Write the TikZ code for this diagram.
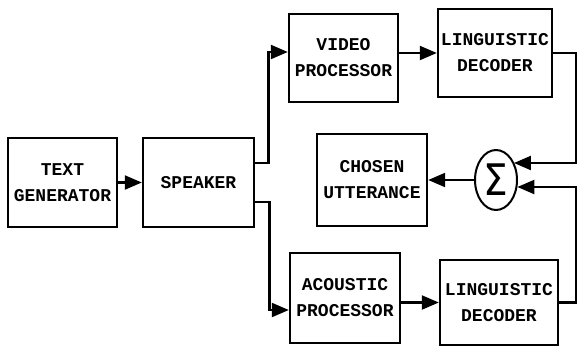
\documentclass[tikz,border=0pt]{standalone}
\usepackage{fontspec}
\setmonofont{Liberation Mono}
\newfontfamily\sigfont{DejaVu Sans}
\usetikzlibrary{arrows.meta,shapes.geometric}
\begin{document}
\begin{tikzpicture}[x=1pt,y=-1pt,
  blk/.style={draw,line width=2.4pt,inner sep=0pt,align=center,
    font=\ttfamily\bfseries\fontsize{18}{26}\selectfont},
  arr/.style={line width=2.2pt,-{Triangle[length=17pt,width=14pt]}},
  ln/.style={line width=2.2pt}]
\useasboundingbox (0,0) rectangle (581,346);
\node[blk,minimum width=109pt,minimum height=89pt] (tg) at (62.5,182.5) {TEXT\\GENERATOR};
\node[blk,minimum width=111pt,minimum height=89pt] (sp) at (198.5,182.5) {SPEAKER};
\node[blk,minimum width=109pt,minimum height=88pt] (vp) at (343.5,58) {VIDEO\\PROCESSOR};
\node[blk,minimum width=114pt,minimum height=88pt] (ld1) at (495,53) {LINGUISTIC\\DECODER};
\node[blk,minimum width=110pt,minimum height=92pt] (cu) at (372,180) {CHOSEN\\UTTERANCE};
\node[blk,minimum width=110pt,minimum height=90pt] (ap) at (345,298) {ACOUSTIC\\PROCESSOR};
\node[blk,minimum width=118pt,minimum height=85pt] (ld2) at (499,302.5) {LINGUISTIC\\DECODER};
\node[draw,ellipse,line width=2pt,minimum width=42pt,minimum height=60pt,inner sep=0pt] (sig) at (496,180)
  {\scalebox{1.3}[1.45]{\sigfont\fontsize{30}{30}\selectfont Σ}};
\coordinate (up) at (268.5,52);
\coordinate (dn) at (269.5,310);
\coordinate (r1) at (576,163);
\coordinate (r2) at (576,187);
\draw[arr] (tg.east) -- (sp.west);
\draw[arr] ([yshift=19.5pt]sp.east) -| (up) -- (up -| vp.west);
\draw[arr] ([yshift=-19.5pt]sp.east) -| (dn) -- (dn -| ap.west);
\draw[arr] (vp.east |- ld1.west) -- (ld1.west);
\draw[arr] (ap.east |- ld2.west) -- (ld2.west);
\draw[arr] (ld1.east) -| (r1) -- (r1 -| sig.45);
\draw[arr] (ld2.east) -| (r2) -- (r2 -| sig.-19);
\draw[arr] (sig.west) -- (sig.west -| cu.east);
\end{tikzpicture}
\end{document}
